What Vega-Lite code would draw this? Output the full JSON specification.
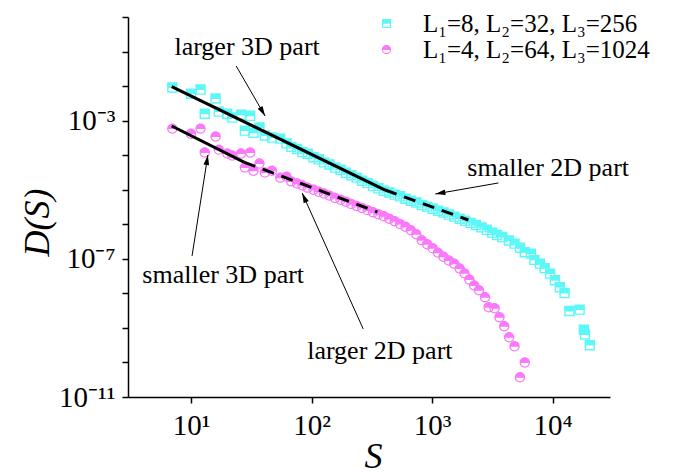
{
  "$schema": "https://vega.github.io/schema/vega-lite/v6.json",
  "width": 482,
  "height": 380,
  "autosize": "none",
  "padding": {"left": 128, "top": 17, "right": 64, "bottom": 77},
  "background": "white",
  "config": {
    "view": {"stroke": null},
    "axis": {"grid": false},
    "font": "Liberation Serif"
  },
  "datasets": {
    "pts": [
      {"g": "L₁=8, L₂=32, L₃=256", "S": 7, "D": 9.12e-3},
      {"g": "L₁=8, L₂=32, L₃=256", "S": 10, "D": 6.03e-3},
      {"g": "L₁=8, L₂=32, L₃=256", "S": 12, "D": 7.94e-3},
      {"g": "L₁=8, L₂=32, L₃=256", "S": 13, "D": 1.585e-3},
      {"g": "L₁=8, L₂=32, L₃=256", "S": 16, "D": 4.37e-3},
      {"g": "L₁=8, L₂=32, L₃=256", "S": 17, "D": 1.82e-3},
      {"g": "L₁=8, L₂=32, L₃=256", "S": 20, "D": 1.585e-3},
      {"g": "L₁=8, L₂=32, L₃=256", "S": 22, "D": 1.23e-3},
      {"g": "L₁=8, L₂=32, L₃=256", "S": 26, "D": 1.48e-3},
      {"g": "L₁=8, L₂=32, L₃=256", "S": 28, "D": 5.13e-4},
      {"g": "L₁=8, L₂=32, L₃=256", "S": 31, "D": 1.38e-3},
      {"g": "L₁=8, L₂=32, L₃=256", "S": 33, "D": 4.47e-4},
      {"g": "L₁=8, L₂=32, L₃=256", "S": 37, "D": 6.31e-4},
      {"g": "L₁=8, L₂=32, L₃=256", "S": 41, "D": 3.72e-4},
      {"g": "L₁=8, L₂=32, L₃=256", "S": 47, "D": 3.24e-4},
      {"g": "L₁=8, L₂=32, L₃=256", "S": 55, "D": 3.02e-4},
      {"g": "L₁=8, L₂=32, L₃=256", "S": 62, "D": 2.19e-4},
      {"g": "L₁=8, L₂=32, L₃=256", "S": 68, "D": 1.74e-4},
      {"g": "L₁=8, L₂=32, L₃=256", "S": 76, "D": 1.51e-4},
      {"g": "L₁=8, L₂=32, L₃=256", "S": 84, "D": 1.23e-4},
      {"g": "L₁=8, L₂=32, L₃=256", "S": 93, "D": 1.10e-4},
      {"g": "L₁=8, L₂=32, L₃=256", "S": 104, "D": 8.71e-5},
      {"g": "L₁=8, L₂=32, L₃=256", "S": 115, "D": 7.59e-5},
      {"g": "L₁=8, L₂=32, L₃=256", "S": 127, "D": 6.17e-5},
      {"g": "L₁=8, L₂=32, L₃=256", "S": 141, "D": 5.37e-5},
      {"g": "L₁=8, L₂=32, L₃=256", "S": 157, "D": 4.37e-5},
      {"g": "L₁=8, L₂=32, L₃=256", "S": 174, "D": 3.80e-5},
      {"g": "L₁=8, L₂=32, L₃=256", "S": 193, "D": 3.09e-5},
      {"g": "L₁=8, L₂=32, L₃=256", "S": 214, "D": 2.63e-5},
      {"g": "L₁=8, L₂=32, L₃=256", "S": 237, "D": 2.24e-5},
      {"g": "L₁=8, L₂=32, L₃=256", "S": 263, "D": 1.82e-5},
      {"g": "L₁=8, L₂=32, L₃=256", "S": 292, "D": 1.55e-5},
      {"g": "L₁=8, L₂=32, L₃=256", "S": 324, "D": 1.29e-5},
      {"g": "L₁=8, L₂=32, L₃=256", "S": 359, "D": 1.10e-5},
      {"g": "L₁=8, L₂=32, L₃=256", "S": 398, "D": 9.33e-6},
      {"g": "L₁=8, L₂=32, L₃=256", "S": 442, "D": 8.32e-6},
      {"g": "L₁=8, L₂=32, L₃=256", "S": 490, "D": 7.24e-6},
      {"g": "L₁=8, L₂=32, L₃=256", "S": 543, "D": 6.46e-6},
      {"g": "L₁=8, L₂=32, L₃=256", "S": 603, "D": 5.50e-6},
      {"g": "L₁=8, L₂=32, L₃=256", "S": 668, "D": 4.79e-6},
      {"g": "L₁=8, L₂=32, L₃=256", "S": 741, "D": 4.27e-6},
      {"g": "L₁=8, L₂=32, L₃=256", "S": 822, "D": 3.63e-6},
      {"g": "L₁=8, L₂=32, L₃=256", "S": 912, "D": 3.24e-6},
      {"g": "L₁=8, L₂=32, L₃=256", "S": 1012, "D": 2.82e-6},
      {"g": "L₁=8, L₂=32, L₃=256", "S": 1122, "D": 2.46e-6},
      {"g": "L₁=8, L₂=32, L₃=256", "S": 1245, "D": 2.19e-6},
      {"g": "L₁=8, L₂=32, L₃=256", "S": 1380, "D": 1.91e-6},
      {"g": "L₁=8, L₂=32, L₃=256", "S": 1531, "D": 1.66e-6},
      {"g": "L₁=8, L₂=32, L₃=256", "S": 1698, "D": 1.45e-6},
      {"g": "L₁=8, L₂=32, L₃=256", "S": 1884, "D": 1.26e-6},
      {"g": "L₁=8, L₂=32, L₃=256", "S": 2089, "D": 1.10e-6},
      {"g": "L₁=8, L₂=32, L₃=256", "S": 2317, "D": 9.55e-7},
      {"g": "L₁=8, L₂=32, L₃=256", "S": 2570, "D": 8.13e-7},
      {"g": "L₁=8, L₂=32, L₃=256", "S": 2851, "D": 6.92e-7},
      {"g": "L₁=8, L₂=32, L₃=256", "S": 3162, "D": 5.75e-7},
      {"g": "L₁=8, L₂=32, L₃=256", "S": 3467, "D": 4.90e-7},
      {"g": "L₁=8, L₂=32, L₃=256", "S": 3828, "D": 4.27e-7},
      {"g": "L₁=8, L₂=32, L₃=256", "S": 4345, "D": 3.39e-7},
      {"g": "L₁=8, L₂=32, L₃=256", "S": 4842, "D": 2.75e-7},
      {"g": "L₁=8, L₂=32, L₃=256", "S": 5370, "D": 2.09e-7},
      {"g": "L₁=8, L₂=32, L₃=256", "S": 5888, "D": 1.55e-7},
      {"g": "L₁=8, L₂=32, L₃=256", "S": 6607, "D": 1.41e-7},
      {"g": "L₁=8, L₂=32, L₃=256", "S": 7079, "D": 9.33e-8},
      {"g": "L₁=8, L₂=32, L₃=256", "S": 7852, "D": 7.24e-8},
      {"g": "L₁=8, L₂=32, L₃=256", "S": 8610, "D": 5.37e-8},
      {"g": "L₁=8, L₂=32, L₃=256", "S": 9550, "D": 3.72e-8},
      {"g": "L₁=8, L₂=32, L₃=256", "S": 10471, "D": 2.40e-8},
      {"g": "L₁=8, L₂=32, L₃=256", "S": 11482, "D": 1.51e-8},
      {"g": "L₁=8, L₂=32, L₃=256", "S": 12589, "D": 1.02e-8},
      {"g": "L₁=8, L₂=32, L₃=256", "S": 13804, "D": 3.09e-9},
      {"g": "L₁=8, L₂=32, L₃=256", "S": 16788, "D": 3.39e-9},
      {"g": "L₁=8, L₂=32, L₃=256", "S": 18200, "D": 8.91e-10},
      {"g": "L₁=8, L₂=32, L₃=256", "S": 18600, "D": 6.46e-10},
      {"g": "L₁=8, L₂=32, L₃=256", "S": 20417, "D": 3.16e-10},
      {"g": "L₁=4, L₂=64, L₃=1024", "S": 7, "D": 5.89e-4},
      {"g": "L₁=4, L₂=64, L₃=1024", "S": 10, "D": 4.17e-4},
      {"g": "L₁=4, L₂=64, L₃=1024", "S": 12, "D": 5.89e-4},
      {"g": "L₁=4, L₂=64, L₃=1024", "S": 13, "D": 1.20e-4},
      {"g": "L₁=4, L₂=64, L₃=1024", "S": 16, "D": 3.47e-4},
      {"g": "L₁=4, L₂=64, L₃=1024", "S": 17, "D": 1.45e-4},
      {"g": "L₁=4, L₂=64, L₃=1024", "S": 20, "D": 1.12e-4},
      {"g": "L₁=4, L₂=64, L₃=1024", "S": 22, "D": 9.77e-5},
      {"g": "L₁=4, L₂=64, L₃=1024", "S": 26, "D": 1.12e-4},
      {"g": "L₁=4, L₂=64, L₃=1024", "S": 28, "D": 4.37e-5},
      {"g": "L₁=4, L₂=64, L₃=1024", "S": 31, "D": 1.20e-4},
      {"g": "L₁=4, L₂=64, L₃=1024", "S": 33, "D": 3.55e-5},
      {"g": "L₁=4, L₂=64, L₃=1024", "S": 37, "D": 5.75e-5},
      {"g": "L₁=4, L₂=64, L₃=1024", "S": 41, "D": 3.16e-5},
      {"g": "L₁=4, L₂=64, L₃=1024", "S": 47, "D": 3.55e-5},
      {"g": "L₁=4, L₂=64, L₃=1024", "S": 55, "D": 2.24e-5},
      {"g": "L₁=4, L₂=64, L₃=1024", "S": 62, "D": 2.40e-5},
      {"g": "L₁=4, L₂=64, L₃=1024", "S": 68, "D": 1.74e-5},
      {"g": "L₁=4, L₂=64, L₃=1024", "S": 76, "D": 1.51e-5},
      {"g": "L₁=4, L₂=64, L₃=1024", "S": 84, "D": 1.32e-5},
      {"g": "L₁=4, L₂=64, L₃=1024", "S": 93, "D": 1.15e-5},
      {"g": "L₁=4, L₂=64, L₃=1024", "S": 104, "D": 1.0e-5},
      {"g": "L₁=4, L₂=64, L₃=1024", "S": 115, "D": 8.71e-6},
      {"g": "L₁=4, L₂=64, L₃=1024", "S": 127, "D": 7.76e-6},
      {"g": "L₁=4, L₂=64, L₃=1024", "S": 141, "D": 6.76e-6},
      {"g": "L₁=4, L₂=64, L₃=1024", "S": 157, "D": 5.75e-6},
      {"g": "L₁=4, L₂=64, L₃=1024", "S": 174, "D": 5.13e-6},
      {"g": "L₁=4, L₂=64, L₃=1024", "S": 193, "D": 4.47e-6},
      {"g": "L₁=4, L₂=64, L₃=1024", "S": 214, "D": 3.89e-6},
      {"g": "L₁=4, L₂=64, L₃=1024", "S": 237, "D": 3.39e-6},
      {"g": "L₁=4, L₂=64, L₃=1024", "S": 263, "D": 2.95e-6},
      {"g": "L₁=4, L₂=64, L₃=1024", "S": 292, "D": 2.57e-6},
      {"g": "L₁=4, L₂=64, L₃=1024", "S": 324, "D": 2.24e-6},
      {"g": "L₁=4, L₂=64, L₃=1024", "S": 359, "D": 1.95e-6},
      {"g": "L₁=4, L₂=64, L₃=1024", "S": 398, "D": 1.70e-6},
      {"g": "L₁=4, L₂=64, L₃=1024", "S": 442, "D": 1.45e-6},
      {"g": "L₁=4, L₂=64, L₃=1024", "S": 490, "D": 1.23e-6},
      {"g": "L₁=4, L₂=64, L₃=1024", "S": 543, "D": 1.02e-6},
      {"g": "L₁=4, L₂=64, L₃=1024", "S": 603, "D": 8.51e-7},
      {"g": "L₁=4, L₂=64, L₃=1024", "S": 668, "D": 6.76e-7},
      {"g": "L₁=4, L₂=64, L₃=1024", "S": 741, "D": 5.13e-7},
      {"g": "L₁=4, L₂=64, L₃=1024", "S": 822, "D": 3.47e-7},
      {"g": "L₁=4, L₂=64, L₃=1024", "S": 912, "D": 2.63e-7},
      {"g": "L₁=4, L₂=64, L₃=1024", "S": 1012, "D": 2.04e-7},
      {"g": "L₁=4, L₂=64, L₃=1024", "S": 1122, "D": 1.51e-7},
      {"g": "L₁=4, L₂=64, L₃=1024", "S": 1245, "D": 1.15e-7},
      {"g": "L₁=4, L₂=64, L₃=1024", "S": 1380, "D": 8.91e-8},
      {"g": "L₁=4, L₂=64, L₃=1024", "S": 1531, "D": 7.24e-8},
      {"g": "L₁=4, L₂=64, L₃=1024", "S": 1698, "D": 5.25e-8},
      {"g": "L₁=4, L₂=64, L₃=1024", "S": 1862, "D": 3.80e-8},
      {"g": "L₁=4, L₂=64, L₃=1024", "S": 2042, "D": 2.51e-8},
      {"g": "L₁=4, L₂=64, L₃=1024", "S": 2239, "D": 1.70e-8},
      {"g": "L₁=4, L₂=64, L₃=1024", "S": 2455, "D": 1.23e-8},
      {"g": "L₁=4, L₂=64, L₃=1024", "S": 2754, "D": 7.76e-9},
      {"g": "L₁=4, L₂=64, L₃=1024", "S": 2951, "D": 3.98e-9},
      {"g": "L₁=4, L₂=64, L₃=1024", "S": 3311, "D": 3.72e-9},
      {"g": "L₁=4, L₂=64, L₃=1024", "S": 3631, "D": 2.04e-9},
      {"g": "L₁=4, L₂=64, L₃=1024", "S": 3981, "D": 1.12e-9},
      {"g": "L₁=4, L₂=64, L₃=1024", "S": 4365, "D": 5.37e-10},
      {"g": "L₁=4, L₂=64, L₃=1024", "S": 4842, "D": 2.95e-10},
      {"g": "L₁=4, L₂=64, L₃=1024", "S": 5888, "D": 1.0e-10},
      {"g": "L₁=4, L₂=64, L₃=1024", "S": 5370, "D": 3.72e-11}
    ],
    "fits": [
      {"seg": "c1", "style": "solid", "S": 6.92, "D": 9.6e-3},
      {"seg": "c1", "style": "solid", "S": 409, "D": 9.8e-6},
      {"seg": "c2", "style": "dashed", "S": 409, "D": 9.8e-6},
      {"seg": "c2", "style": "dashed", "S": 2004, "D": 1.33e-6},
      {"seg": "p1", "style": "solid", "S": 6.92, "D": 7.0e-4},
      {"seg": "p1", "style": "solid", "S": 27.5, "D": 6.3e-5},
      {"seg": "p2", "style": "dashed", "S": 27.5, "D": 6.3e-5},
      {"seg": "p2", "style": "dashed", "S": 352, "D": 2.27e-6}
    ],
    "arrows": [
      {"S": 23.7, "D": 3.82e-2, "S2": 41.2, "D2": 1.36e-3, "angle": 149.9},
      {"S": 3556, "D": 1.57e-5, "S2": 1067, "D2": 7.53e-6, "angle": 260.1},
      {"S": 10.2, "D": 1.21e-7, "S2": 13.8, "D2": 1.01e-4, "angle": 9.0},
      {"S": 268.5, "D": 9.33e-10, "S2": 83.6, "D2": 8.05e-6, "angle": 335.8}
    ],
    "labels": [
      {"S": 29.2, "D": 7.94e-2, "t": "larger 3D part"},
      {"S": 9200, "D": 2.5e-5, "t": "smaller 2D part"},
      {"S": 18.5, "D": 2.0e-8, "t": "smaller 3D part"},
      {"S": 369, "D": 1.26e-10, "t": "larger 2D part"}
    ]
  },
  "encoding": {
    "x": {
      "field": "S", "type": "quantitative",
      "scale": {"type": "log", "domain": [3, 30000], "nice": false},
      "axis": {
        "title": "S", "titleFont": "Liberation Serif", "titleFontStyle": "italic", "titleFontWeight": "normal",
        "titleFontSize": 36, "titleColor": "black", "titleX": 245, "titleY": 70,
        "titleBaseline": "alphabetic", "titleAlign": "center",
        "values": [10, 100, 1000, 10000],
        "labelExpr": "['10¹','10²','10³','10⁴'][round(log(datum.value)/LN10)-1]",
        "labelFont": "Liberation Serif", "labelFontSize": 29, "labelColor": "black", "labelPadding": 8,
        "labelFlush": false, "labelOverlap": false,
        "tickSize": 6, "tickWidth": 1.5, "tickColor": "black",
        "domainColor": "black", "domainWidth": 1.5, "grid": false
      }
    },
    "y": {
      "field": "D", "type": "quantitative",
      "scale": {"type": "log", "domain": [1e-11, 1], "nice": false},
      "axis": {
        "title": "D(S)", "titleFont": "Liberation Serif", "titleFontStyle": "italic", "titleFontWeight": "normal",
        "titleFontSize": 36, "titleColor": "black", "titleAngle": 270, "titleX": -91, "titleY": 205,
        "titleAlign": "center", "titleBaseline": "middle",
        "values": [1e-11, 1e-10, 1e-9, 1e-8, 1e-7, 1e-6, 1e-5, 1e-4, 1e-3, 1e-2, 1e-1, 1],
        "labelExpr": "round(log(datum.value)/LN10) == -3 ? '10⁻³' : round(log(datum.value)/LN10) == -7 ? '10⁻⁷' : round(log(datum.value)/LN10) == -11 ? '10⁻¹¹' : ''",
        "labelFont": "Liberation Serif", "labelFontSize": 29, "labelColor": "black", "labelPadding": 7,
        "labelFlush": false, "labelOverlap": false,
        "tickSize": 6, "tickWidth": 1.5, "tickColor": "black",
        "domainColor": "black", "domainWidth": 1.5, "grid": false
      }
    }
  },
  "layer": [
    {
      "data": {"name": "pts"},
      "mark": {"type": "point", "filled": true, "opacity": 1, "strokeWidth": 0, "size": 108},
      "encoding": {
        "color": {
          "field": "g", "type": "nominal",
          "scale": {"domain": ["L₁=8, L₂=32, L₃=256", "L₁=4, L₂=64, L₃=1024"], "range": ["#5ef7f7", "#fa78fa"]},
          "legend": {
            "title": null, "orient": "none", "legendX": 246, "legendY": -6, "padding": 0,
            "labelFont": "Liberation Serif", "labelFontSize": 25, "labelColor": "black",
            "labelOffset": 24, "rowPadding": -5, "symbolSize": 85, "symbolStrokeWidth": 0, "labelLimit": 400
          }
        },
        "shape": {
          "field": "g", "type": "nominal",
          "scale": {"domain": ["L₁=8, L₂=32, L₃=256", "L₁=4, L₂=64, L₃=1024"],
            "range": ["M-1,-1H1V1H-1Z M-0.72,0.08V0.74H0.72V0.08Z", "M-1,0A1,1,0,1,1,1,0A1,1,0,1,1,-1,0Z M0.76,0.1L-0.76,0.1A0.76,0.66,0,0,0,0.76,0.1Z"]},
          "legend": {
            "title": null, "orient": "none", "legendX": 246, "legendY": -6, "padding": 0,
            "labelFont": "Liberation Serif", "labelFontSize": 25, "labelColor": "black",
            "labelOffset": 24, "rowPadding": -5, "symbolSize": 85, "symbolStrokeWidth": 0, "labelLimit": 400
          }
        }
      }
    },
    {
      "data": {"name": "fits"},
      "transform": [{"filter": "datum.style == 'solid'"}],
      "mark": {"type": "line", "color": "black", "strokeWidth": 3},
      "encoding": {"detail": {"field": "seg"}}
    },
    {
      "data": {"name": "fits"},
      "transform": [{"filter": "datum.style == 'dashed'"}],
      "mark": {"type": "line", "color": "black", "strokeWidth": 3, "strokeDash": [12, 8]},
      "encoding": {"detail": {"field": "seg"}}
    },
    {
      "data": {"name": "arrows"},
      "mark": {"type": "rule", "color": "black", "strokeWidth": 1},
      "encoding": {"x2": {"field": "S2"}, "y2": {"field": "D2"}}
    },
    {
      "data": {"name": "arrows"},
      "mark": {"type": "point", "filled": true, "color": "black", "opacity": 1, "strokeWidth": 0, "size": 400, "shape": "M0,0L-0.28,1L0.28,1Z"},
      "encoding": {
        "x": {"field": "S2", "type": "quantitative"},
        "y": {"field": "D2", "type": "quantitative"},
        "angle": {"field": "angle", "type": "quantitative", "scale": null}
      }
    },
    {
      "data": {"name": "labels"},
      "mark": {"type": "text", "font": "Liberation Serif", "fontSize": 26, "color": "black", "align": "center", "baseline": "alphabetic"},
      "encoding": {"text": {"field": "t"}}
    }
  ]
}
